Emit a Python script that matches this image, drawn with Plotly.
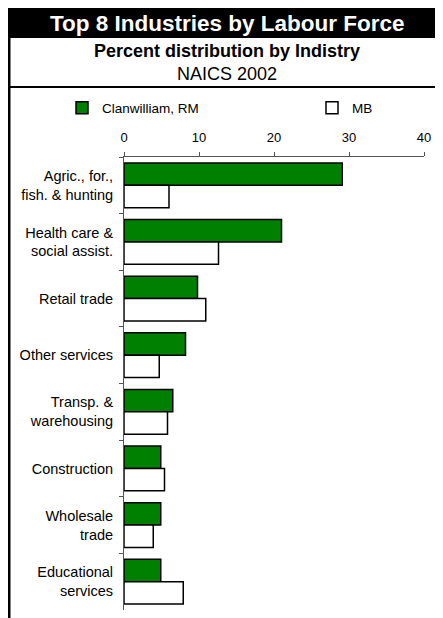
import plotly.graph_objects as go

categories = ["Agric., for.,<br>fish. & hunting", "Health care &<br>social assist.", "Retail trade",
              "Other services", "Transp. &<br>warehousing", "Construction",
              "Wholesale<br>trade", "Educational<br>services"]
clanwilliam = [29.1, 21.0, 9.8, 8.2, 6.5, 4.9, 4.9, 4.9]
mb = [6.0, 12.6, 10.9, 4.7, 5.8, 5.4, 3.9, 7.9]
series_names = ["Clanwilliam, RM", "MB"]
x_ticks = [0, 10, 20, 30, 40]

# figure is placed at (8, 8) on the page by the default body margin
OFF = 8
W, H = 435, 610
ML, MR, MT, MB_ = 116, 19, 149, 8
PW, PH = W - ML - MR, H - MT - MB_

def px(x):  # page x -> paper
    return (x - OFF - ML) / PW

def py(y):  # page y -> paper
    return (H - MB_ - (y - OFF)) / PH

FONT = "Arial, Liberation Sans, sans-serif"

fig = go.Figure()
fig.add_trace(go.Bar(y=categories, x=clanwilliam, orientation="h", name=series_names[0],
                     marker=dict(color="#008000", line=dict(color="black", width=1.5)),
                     legend="legend"))
fig.add_trace(go.Bar(y=categories, x=mb, orientation="h", name=series_names[1],
                     marker=dict(color="white", line=dict(color="black", width=1.5)),
                     legend="legend2"))

shapes = [
    dict(type="rect", xref="paper", yref="paper", x0=px(8), x1=px(446), y0=py(38), y1=py(8),
         fillcolor="black", line=dict(width=0), layer="above"),
    dict(type="rect", xref="paper", yref="paper", x0=px(8), x1=px(10.5), y0=py(622), y1=py(8),
         fillcolor="black", line=dict(width=0), layer="above"),
    dict(type="rect", xref="paper", yref="paper", x0=px(8), x1=px(446), y0=py(88), y1=py(86),
         fillcolor="black", line=dict(width=0), layer="above"),
]

annotations = [
    dict(text="<b>Top 8 Industries by Labour Force</b>", xref="paper", yref="paper",
         x=px(227), y=py(23), showarrow=False, xanchor="center", yanchor="middle",
         font=dict(family=FONT, size=22.5, color="white")),
    dict(text="<b>Percent distribution by Indistry</b>", xref="paper", yref="paper",
         x=px(227), y=py(51), showarrow=False, xanchor="center", yanchor="middle",
         font=dict(family=FONT, size=18, color="black")),
    dict(text="NAICS 2002", xref="paper", yref="paper",
         x=px(227), y=py(74), showarrow=False, xanchor="center", yanchor="middle",
         font=dict(family=FONT, size=18, color="black")),
]

legend_common = dict(orientation="h", yanchor="middle", xanchor="left",
                     font=dict(family=FONT, size=13.5), bgcolor="rgba(0,0,0,0)",
                     borderwidth=0)

fig.update_layout(
    width=W, height=H,
    margin=dict(l=ML, r=MR, t=MT, b=MB_, pad=0),
    paper_bgcolor="white", plot_bgcolor="white",
    barmode="group", bargap=0.21, bargroupgap=0,
    font=dict(family=FONT, size=13, color="black"),
    shapes=shapes, annotations=annotations,
    showlegend=True,
    legend=dict(x=px(62), y=py(108), **legend_common),
    legend2=dict(x=px(312), y=py(108), **legend_common),
    xaxis=dict(side="top", range=[0, 40], tickvals=x_ticks, ticks="outside", ticklen=4,
               tickcolor="#555555", showline=True, linecolor="#555555", linewidth=1,
               showgrid=False, zeroline=False, tickfont=dict(size=13), ticklabelstandoff=5),
    yaxis=dict(autorange="reversed", ticks="outside", tickson="boundaries", ticklen=4,
               tickcolor="#555555", showline=True, linecolor="#555555", linewidth=1,
               showgrid=False, tickfont=dict(size=14.5), ticklabelstandoff=7),
)

fig.write_html("out.html")
